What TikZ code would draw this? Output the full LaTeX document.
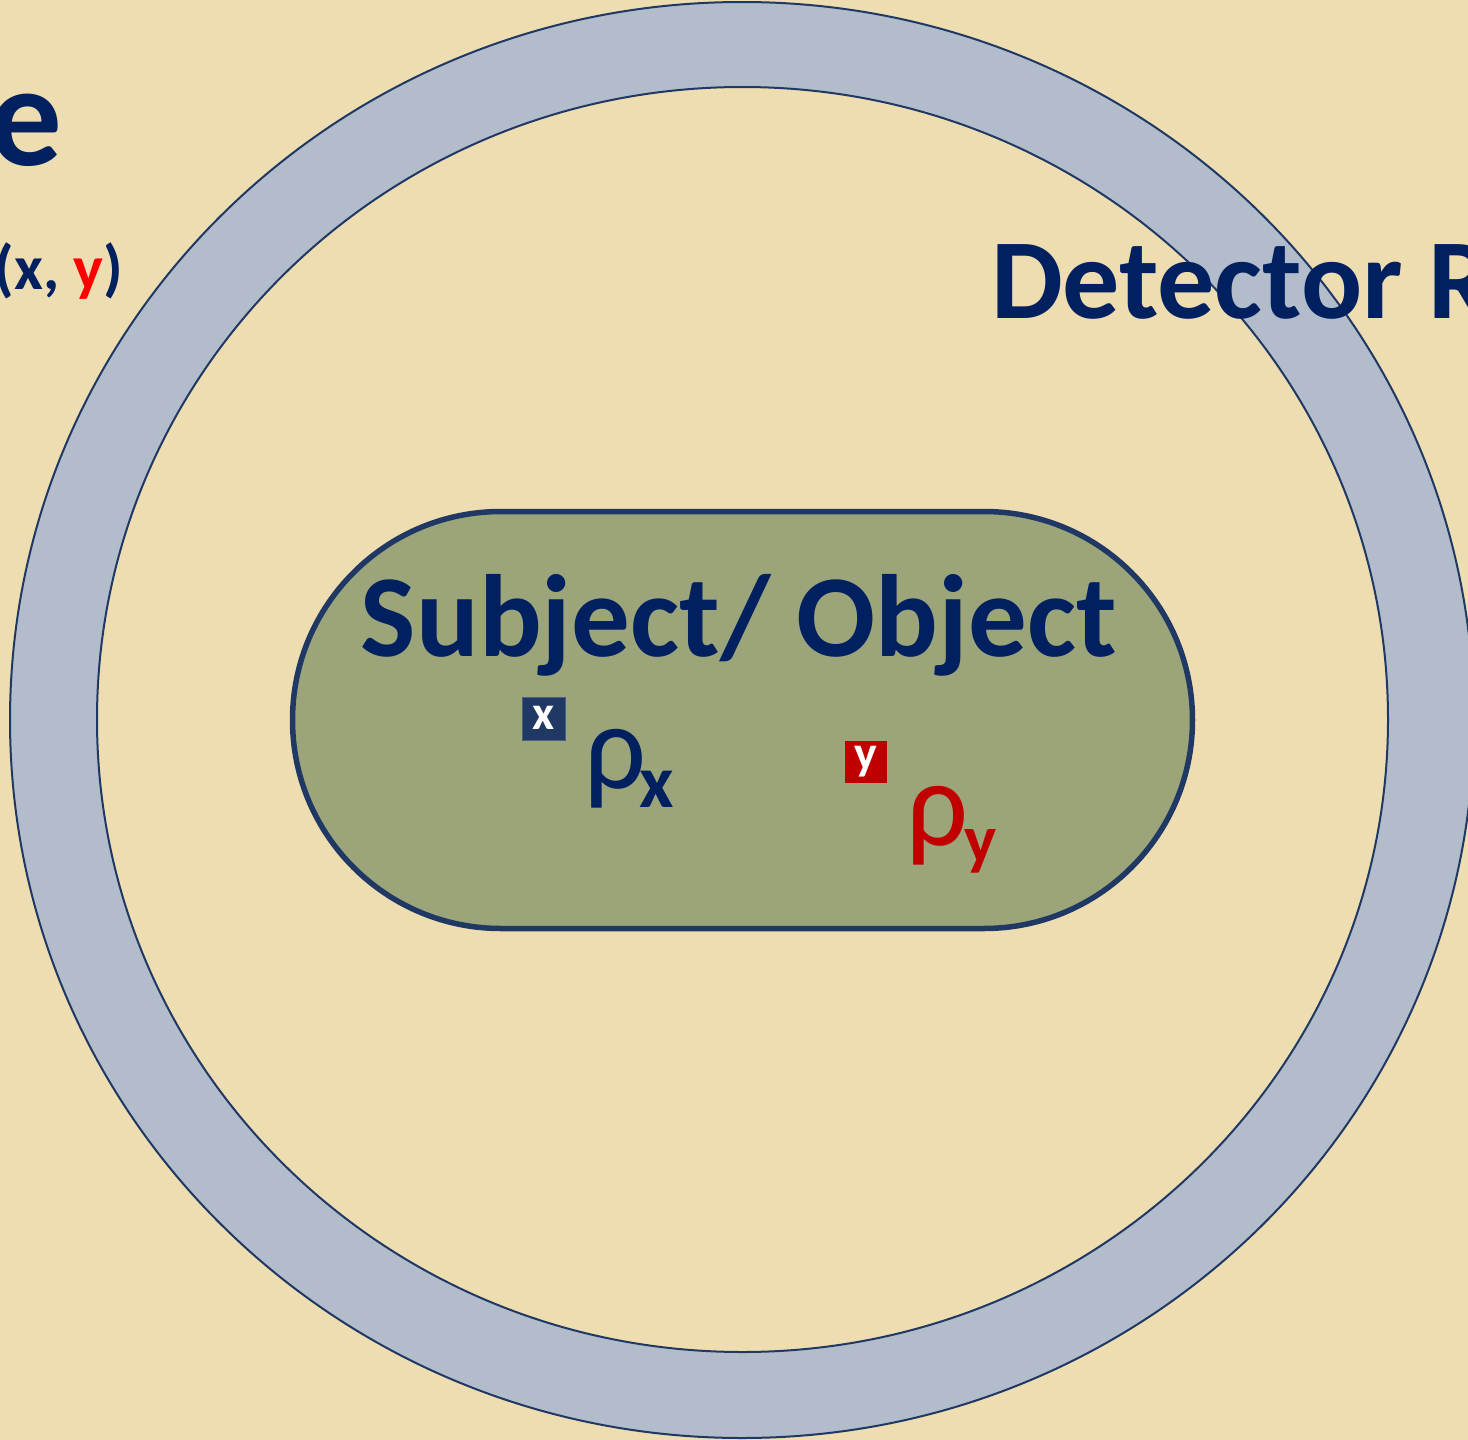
\documentclass[tikz,border=0pt]{standalone}
\usepackage{fontspec}
\setmainfont{Carlito}
\usetikzlibrary{shapes.misc}
\definecolor{bg}{HTML}{EFDDB2}
\definecolor{navy}{HTML}{002060}
\definecolor{edge}{HTML}{1F3864}
\definecolor{ringfill}{HTML}{B3BCCA}
\definecolor{olive}{HTML}{9CA57A}
\definecolor{dred}{HTML}{C00000}
\definecolor{bred}{HTML}{FF0000}
\begin{document}
\begin{tikzpicture}[x=1pt,y=1pt,
  lbl/.style={inner sep=0pt,outer sep=0pt,font=\bfseries,text=navy},
  tagbox/.style={minimum size=43pt,inner sep=0pt,text=white,font=\fontsize{48}{48}\selectfont\bfseries}]
\useasboundingbox (0,0) rectangle (1468,-1440);
\clip (0,0) rectangle (1468,-1440);
\fill[bg] (0,0) rectangle (1468,-1440);
% detector ring
\fill[ringfill,even odd rule] (742,-720) ellipse [x radius=732,y radius=718]
      (742.5,-719.5) ellipse [x radius=645.5,y radius=632.5];
\draw[edge,line width=2pt] (742,-720) ellipse [x radius=732,y radius=718];
\draw[edge,line width=2pt] (742.5,-719.5) ellipse [x radius=645.5,y radius=632.5];
% subject
\node[rounded rectangle,draw=edge,line width=5.5pt,fill=olive,minimum width=900pt,minimum height=417pt,inner sep=0pt] (subj) at (742.5,-720) {};
\node[lbl,anchor=base,font=\fontsize{117}{117}\selectfont\bfseries] (subjtxt) at (739,-656) {Subject/ Object};
% titles
\node[lbl,anchor=base west,font=\fontsize{114}{114}\selectfont\bfseries] (det) at (991,-318) {Detector Ring};
\node[lbl,anchor=base east,font=\fontsize{145}{145}\selectfont\bfseries] (etxt) at (62,-165) {e};
\node[lbl,anchor=base east,font=\fontsize{63}{63}\selectfont\bfseries] (xy) at (123,-289) {(x, \textcolor{bred}{y})};
% points
\node[tagbox,fill=edge,draw=edge!80!white,line width=1.5pt] (px) at (544,-719) {\raisebox{2pt}{x}};
\node[tagbox,fill=dred,minimum size=42pt] (py) at (866,-762) {\raisebox{1pt}{y}};
% densities
\node[inner sep=0pt,anchor=base west,text=navy,font=\fontsize{122}{122}\selectfont] (rhox) at (584,-788) {ρ};
\node[inner sep=0pt,anchor=base west,text=navy,font=\fontsize{75}{75}\selectfont\bfseries] (subx) at (639,-807) {x};
\node[inner sep=0pt,anchor=base west,text=dred,font=\fontsize{122}{122}\selectfont] (rhoy) at (906,-845) {ρ};
\node[inner sep=0pt,anchor=base west,text=dred,font=\fontsize{68}{68}\selectfont\bfseries] (suby) at (964,-862) {y};
\end{tikzpicture}
\end{document}
